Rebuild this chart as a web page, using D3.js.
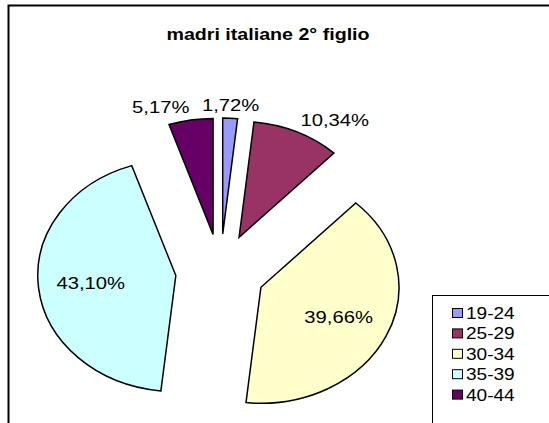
<!DOCTYPE html>
<html>
<head>
  <meta charset="UTF-8" />
  <title>madri italiane 2° figlio</title>
  <script src="https://d3js.org/d3.v7.min.js"></script>
  <style>
    body { margin: 0; background: #fff; }
    text { font-family: Arial, "Liberation Sans", sans-serif; fill: #000; }
    .slice { stroke: #000; stroke-width: 1.5px; }
  </style>
</head>
<body>
<svg id="chart" width="549" height="423"></svg>
<script>
  // dati
  const categories = ["19-24", "25-29", "30-34", "35-39", "40-44"];
  const values = [1.72, 10.34, 39.66, 43.10, 5.17];
  const colors = ["#9999FF", "#993366", "#FFFFCC", "#CCFFFF", "#660066"];
  const title = "madri italiane 2° figlio";

  const width = 549, height = 423;
  const sx = 1.19;          // il grafico originale è stirato in orizzontale
  const r = 116;            // raggio (verticale)
  const explode = 37.6;     // distanza dei settori esplosi
  const cx = 220.3, cy = 271.5;

  const svg = d3.select("#chart");

  // cornice dell'area grafico (tagliata a destra e in basso)
  svg.append("rect")
    .attr("x", 8.5).attr("y", 5.5)
    .attr("width", 600).attr("height", 500)
    .attr("fill", "#fff")
    .attr("stroke", "#000")
    .attr("stroke-width", 2);

  svg.append("text")
    .attr("transform", `translate(268,39.5) scale(${sx},1)`)
    .attr("text-anchor", "middle")
    .style("font-size", "16.5px")
    .style("font-weight", "bold")
    .text(title);

  const pie = d3.pie().sort(null).value(d => d)(values);
  const arc = d3.arc().innerRadius(0).outerRadius(r);
  const fmt = v => d3.format(".2f")(v).replace(".", ",") + "%";

  // centro di ogni settore esploso
  function apex(d) {
    const a = (d.startAngle + d.endAngle) / 2;
    return [cx + sx * explode * Math.sin(a), cy - explode * Math.cos(a)];
  }

  svg.selectAll(".slice")
    .data(pie)
    .enter().append("path")
    .attr("class", "slice")
    .attr("vector-effect", "non-scaling-stroke")
    .attr("transform", d => { const p = apex(d); return `translate(${p[0]},${p[1]}) scale(${sx},1)`; })
    .attr("fill", (d, i) => colors[i])
    .attr("d", arc);

  // etichette: dentro per i settori grandi, fuori per quelli piccoli
  svg.selectAll(".lbl")
    .data(pie)
    .enter().append("text")
    .attr("class", "lbl")
    .style("font-size", "17px")
    .attr("text-anchor", d => {
      if (d.value > 15) return "middle";
      const s = Math.sin((d.startAngle + d.endAngle) / 2);
      return Math.abs(s) < 0.1 ? "middle" : (s > 0 ? "start" : "end");
    })
    .attr("dy", d => d.value > 15 ? "0.35em" : "0")
    .attr("transform", d => {
      const a = (d.startAngle + d.endAngle) / 2;
      const k = d.value > 15 ? 0.62 : 1.06;
      const p = apex(d);
      const x = p[0] + sx * r * k * Math.sin(a);
      const y = p[1] - r * k * Math.cos(a);
      return `translate(${x},${y}) scale(${sx},1)`;
    })
    .text(d => fmt(d.value));

  // legenda
  const legend = svg.append("g");
  legend.append("rect")
    .attr("x", 432.5).attr("y", 295.5)
    .attr("width", 200).attr("height", 200)
    .attr("fill", "#fff").attr("stroke", "#000");

  const row = d3.scaleBand().domain(categories).range([303, 405]);

  const item = legend.selectAll(".item")
    .data(categories)
    .enter().append("g")
    .attr("class", "item")
    .attr("transform", d => `translate(0,${row(d)})`);

  item.append("rect")
    .attr("x", 452.5).attr("y", 5.5)
    .attr("width", 10).attr("height", 9)
    .attr("fill", (d, i) => colors[i])
    .attr("stroke", "#000");

  item.append("text")
    .attr("transform", `translate(466,16) scale(${sx},1)`)
    .style("font-size", "16px")
    .text(d => d);
</script>
</body>
</html>
